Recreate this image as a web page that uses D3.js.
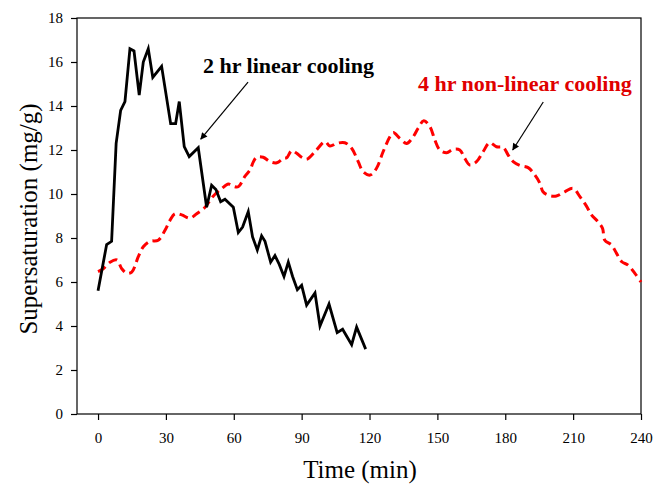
<!DOCTYPE html>
<html>
<head>
<meta charset="utf-8">
<script src="https://cdn.jsdelivr.net/npm/d3@7"></script>
<style>
  body { margin: 0; background: #fff; }
  .chart text { font-family: "Liberation Serif", "Times New Roman", serif; }
</style>
</head>
<body>
<div class="chart"></div>
<script>
// 2 hr linear cooling (black, solid)
const linearTime = [0, 3.8, 6, 8, 10, 11.9, 14.1, 15.9, 18.2, 20, 22.2, 24.2, 28.1, 32.1, 34.3, 35.9, 38.1, 40.3, 44.3, 48, 50.2, 52.1, 54.2, 56.1, 59.8, 62, 63.9, 66.4, 68.3, 70.4, 72.3, 73.8, 76.3, 78.2, 80.1, 82.2, 84.1, 86, 88.1, 90, 92.2, 95.9, 98.1, 102.1, 105.7, 108.1, 112.1, 114.3, 118.3]
const linearValues = [5.6, 7.7, 7.85, 12.3, 13.8, 14.2, 16.6, 16.5, 14.5, 16.0, 16.6, 15.3, 15.8, 13.2, 13.2, 14.2, 12.15, 11.7, 12.1, 9.4, 10.4, 10.2, 9.65, 9.76, 9.4, 8.25, 8.5, 9.2, 8.05, 7.45, 8.1, 7.85, 6.9, 7.2, 6.8, 6.25, 6.9, 6.25, 5.65, 5.85, 4.95, 5.5, 4.0, 5.0, 3.7, 3.85, 3.15, 3.95, 2.95]

// 4 hr non-linear cooling (red, dashed)
const nonLinearTime = [0, 2.3, 5.3, 8.3, 10.5, 12.7, 14.9, 17.8, 20, 23, 26.6, 29.6, 31.8, 34, 37, 40.6, 43.6, 47.3, 50.9, 54.7, 57.6, 59.8, 62, 64.9, 67.2, 68.6, 70.1, 73, 76, 79, 81.9, 83.4, 85.6, 87.8, 90, 92.2, 95.9, 100.3, 102.5, 105.5, 109.1, 112.1, 115, 117.2, 120.2, 123.1, 126, 129, 130.5, 133.4, 136.4, 139.3, 141.5, 144, 146.7, 148.9, 151.1, 154.1, 157, 159.9, 162.1, 164.3, 167.3, 170.2, 173.1, 176.1, 179.1, 181.3, 183.5, 186.4, 190.1, 193.1, 195.3, 196.7, 198.9, 202.6, 206.3, 210, 213, 215.9, 218.1, 221, 223, 224, 227, 229.2, 231.5, 234.3, 237.3, 240]
const nonLinearValues = [6.47, 6.6, 6.9, 7.0, 6.6, 6.4, 6.45, 7.15, 7.6, 7.85, 7.9, 8.35, 8.8, 9.1, 9.05, 8.9, 9.1, 9.4, 9.9, 10.25, 10.45, 10.35, 10.33, 10.8, 11.1, 11.45, 11.67, 11.67, 11.47, 11.42, 11.62, 11.65, 11.97, 11.85, 11.67, 11.58, 11.92, 12.38, 12.18, 12.3, 12.33, 12.08, 11.47, 11.01, 10.86, 11.17, 11.92, 12.6, 12.79, 12.53, 12.3, 12.6, 12.99, 13.33, 13.06, 12.45, 12.0, 11.88, 12.03, 12.0, 11.62, 11.32, 11.47, 11.92, 12.33, 12.15, 12.12, 11.77, 11.47, 11.3, 11.2, 10.86, 10.49, 10.1, 9.95, 9.91, 10.1, 10.26, 9.88, 9.45, 9.05, 8.74, 8.44, 7.9, 7.68, 7.3, 6.92, 6.77, 6.39, 6.0]

const xTicks = [0, 30, 60, 90, 120, 150, 180, 210, 240]
const yTicks = [0, 2, 4, 6, 8, 10, 12, 14, 16, 18]

// annotations in data units: text anchor and arrow tail -> head
const labels = [
  { text: "2 hr linear cooling", t: 46.4, v: 15.5, color: "#000" },
  { text: "4 hr non-linear cooling", t: 141.4, v: 14.68, color: "#e00000" }
]
const arrows = [
  { t0: 66.3, v0: 15.08, t1: 45.4, v1: 12.49 },
  { t0: 196.8, v0: 14.18, t1: 183.3, v1: 12.0 }
]

const width = 655
const height = 485
const margin = { top: 18, right: 14, bottom: 71, left: 77 }

const svg = d3.select(".chart").append("svg").attr("width", width).attr("height", height)

const x = d3.scaleLinear().domain([-9.3, 240]).range([margin.left, width - margin.right])
const y = d3.scaleLinear().domain([0, 18]).range([height - margin.bottom, margin.top])

// frame
svg.append("rect")
  .attr("x", margin.left)
  .attr("y", margin.top)
  .attr("width", width - margin.right - margin.left)
  .attr("height", height - margin.bottom - margin.top)
  .attr("fill", "none")
  .attr("stroke", "#000")
  .attr("stroke-width", 1.2)

const yAxis = d3.axisLeft(y).tickValues(yTicks).tickSize(6).tickPadding(8)
const xAxis = d3.axisBottom(x).tickValues(xTicks).tickSize(6).tickPadding(12)

const yAxisGroup = svg.append("g").attr("transform", `translate(${margin.left},0)`).call(yAxis)
const xAxisGroup = svg.append("g").attr("transform", `translate(0,${height - margin.bottom})`).call(xAxis)

;[xAxisGroup, yAxisGroup].forEach(g => {
  g.select(".domain").remove()
  g.selectAll("line").attr("stroke", "#000").attr("stroke-width", 1.2)
  g.selectAll("text").attr("font-size", 15).attr("fill", "#000")
})

// axis titles
svg.append("text")
  .attr("transform", `translate(37, 219) rotate(-90)`)
  .attr("text-anchor", "middle")
  .attr("font-size", 25)
  .text("Supersaturation (mg/g)")

svg.append("text")
  .attr("x", 360)
  .attr("y", 478)
  .attr("text-anchor", "middle")
  .attr("font-size", 25)
  .text("Time (min)")

// lines
const linearData = linearTime.map((t, i) => ({ t, v: linearValues[i] }))
const nonLinearData = nonLinearTime.map((t, i) => ({ t, v: nonLinearValues[i] }))

const line = d3.line().x(d => x(d.t)).y(d => y(d.v))
const smoothLine = d3.line().x(d => x(d.t)).y(d => y(d.v)).curve(d3.curveCatmullRom.alpha(0.5))

svg.append("path")
  .datum(nonLinearData)
  .attr("d", smoothLine)
  .attr("fill", "none")
  .attr("stroke", "#ff0000")
  .attr("stroke-width", 3)
  .attr("stroke-dasharray", "9,5")

svg.append("path")
  .datum(linearData)
  .attr("d", line)
  .attr("fill", "none")
  .attr("stroke", "#000")
  .attr("stroke-width", 2.8)
  .attr("stroke-linejoin", "miter")

// arrows
svg.append("defs").append("marker")
  .attr("id", "head")
  .attr("viewBox", "0 0 10 10")
  .attr("refX", 9)
  .attr("refY", 5)
  .attr("markerWidth", 9)
  .attr("markerHeight", 7)
  .attr("markerUnits", "userSpaceOnUse")
  .attr("orient", "auto")
  .append("path")
  .attr("d", "M0,0 L10,5 L0,10 z")
  .attr("fill", "#000")

svg.selectAll(".arrow")
  .data(arrows)
  .enter()
  .append("line")
  .attr("class", "arrow")
  .attr("x1", d => x(d.t0))
  .attr("y1", d => y(d.v0))
  .attr("x2", d => x(d.t1))
  .attr("y2", d => y(d.v1))
  .attr("stroke", "#000")
  .attr("stroke-width", 1.2)
  .attr("marker-end", "url(#head)")

svg.selectAll(".label")
  .data(labels)
  .enter()
  .append("text")
  .attr("class", "label")
  .attr("x", d => x(d.t))
  .attr("y", d => y(d.v))
  .attr("font-size", 22)
  .attr("font-weight", "bold")
  .attr("fill", d => d.color)
  .text(d => d.text)
</script>
</body>
</html>
